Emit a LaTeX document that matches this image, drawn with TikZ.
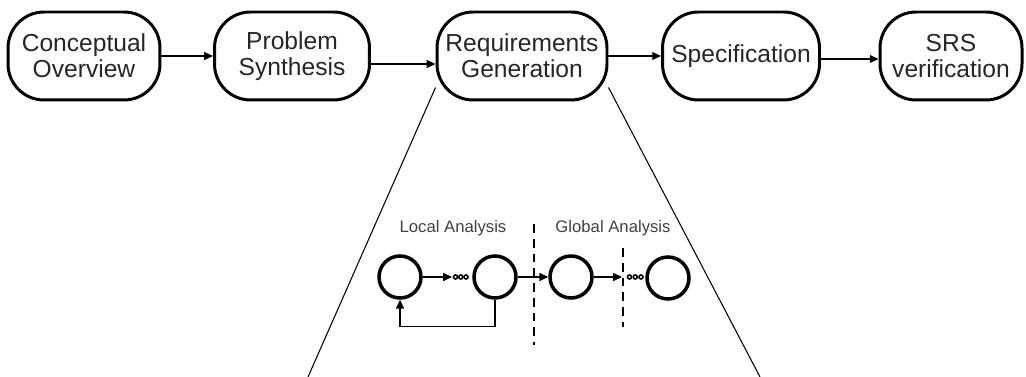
\documentclass[tikz,border=0pt]{standalone}
\usepackage{fontspec}
\setmainfont{Liberation Sans}
\usetikzlibrary{arrows.meta}
\tikzset{
  stage/.style={draw, line width=1.7pt, rounded corners=0.72cm, minimum height=1.76cm, inner sep=0pt, align=center, font=\fontsize{14}{14.8}\selectfont, text=black!85},
  phase/.style={draw, circle, line width=2pt, minimum size=0.84cm, inner sep=0pt},
  flow/.style={-{Triangle[length=5pt,width=4.5pt]}, line width=0.7pt},
  sep/.style={line width=0.8pt, dash pattern=on 5pt off 3.4pt},
  lbl/.style={font=\fontsize{9.5}{11}\selectfont, text=black!75}
}

\begin{document}
\begin{tikzpicture}[x=0.02cm,y=-0.02cm]
\useasboundingbox (0,0) rectangle (1026,377);

\node[stage, minimum width=3.04cm] (co) at (84,56) {Conceptual\\Overview};
\node[stage, minimum width=3.10cm] (ps) at (292,56) {Problem\\Synthesis};
\node[stage, minimum width=3.40cm] (rg) at (522,56) {Requirements\\Generation};
\node[stage, minimum width=3.14cm] (sp) at (741,56) {Specification};
\node[stage, minimum width=2.84cm] (sv) at (951,56) {SRS\\verification};

\draw[flow] (co) -- (ps);
\draw[flow] ([yshift=-0.16cm]ps.east) -- ([yshift=-0.16cm]rg.west);
\draw[flow] (rg) -- (sp);
\draw[flow] ([yshift=-0.06cm]sp.east) -- ([yshift=-0.06cm]sv.west);

% zoom lines
\coordinate (fl) at (308,377);
\coordinate (fr) at (760,377);
\draw[line width=0.6pt] (rg.200) -- (fl);
\draw[line width=0.6pt] (rg.-20) -- (fr);

\node[lbl] (lloc) at (453,228) {Local Analysis};
\node[lbl] (lglo) at (613,228) {Global Analysis};

\node[phase] (la1) at (400,277) {};
\node[phase] (la2) at (495,277) {};
\node[phase] (ga1) at (571,277) {};
\node[phase] (ga2) at (668,278) {};

\coordinate (d1) at (452,277);
\coordinate (d2) at (622,277);
\draw[flow] (la1) -- (d1);
\draw[flow] (la2) -- (ga1);
\draw[flow] (ga1) -- (d2);
\foreach \k in {0,1,2}{
  \draw[line width=0.9pt] ([xshift={0.07cm+\k*0.105cm}]d1) circle (0.04cm);
  \draw[line width=0.9pt] ([xshift={0.15cm+\k*0.115cm}]d2) circle (0.04cm);
}
\draw[flow] (la2.south) -- ++(0,27) -| (la1.south);

\coordinate (s1t) at (534,224);
\coordinate (s1b) at (534,345);
\coordinate (s2t) at (623,248);
\coordinate (s2b) at (623,327);
\draw[sep] (s1t) -- (s1b);
\draw[sep] (s2t) -- (s2b);
\end{tikzpicture}
\end{document}
